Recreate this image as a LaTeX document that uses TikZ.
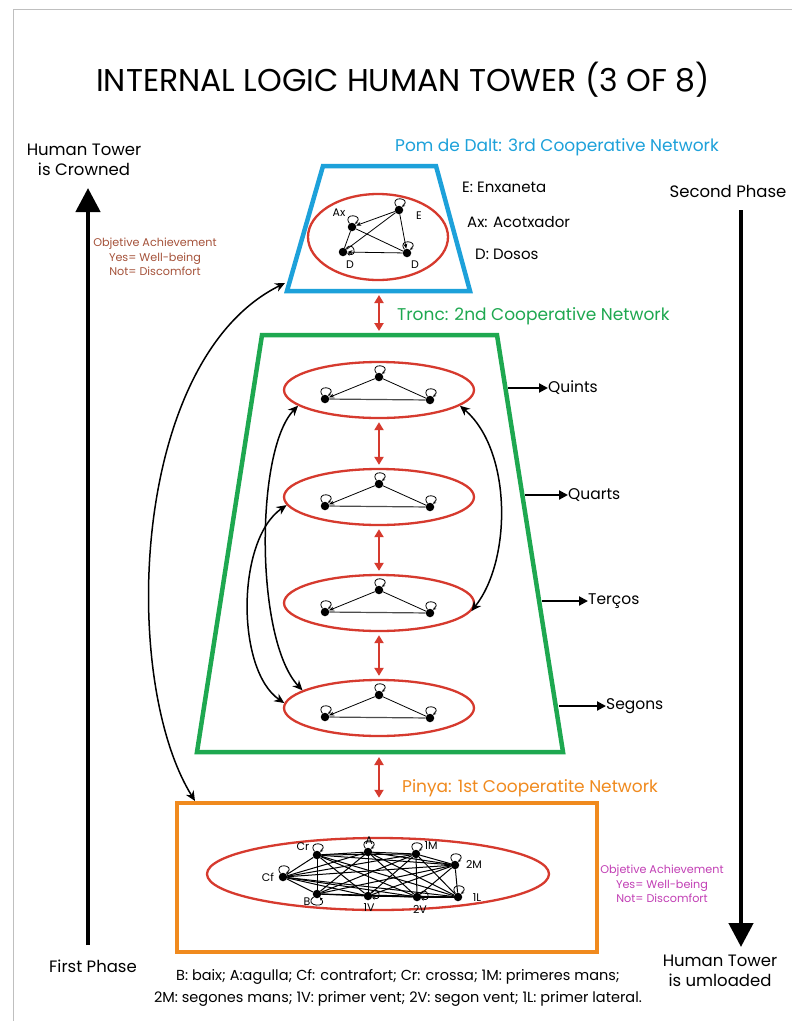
\documentclass[tikz,border=0pt]{standalone}
\usepackage{fontspec}
\setmainfont{Poppins}
\usetikzlibrary{arrows.meta,shapes.geometric,calc}
\definecolor{cblue}{HTML}{1DA1DA}
\definecolor{cgreen}{HTML}{1EA850}
\definecolor{corange}{HTML}{F08A1E}
\definecolor{cred}{HTML}{D63A2E}
\definecolor{cbrown}{HTML}{A5523A}
\definecolor{cmag}{HTML}{C23FB5}
\newcommand{\fs}[1]{\fontsize{#1}{#1}\selectfont}
\begin{document}
\begin{tikzpicture}[x=1pt,y=-1pt,
  dot/.style={circle,fill=black,inner sep=0pt,minimum size=8.5pt},
  redell/.style={ellipse,draw=cred,line width=2.3pt,inner sep=0pt},
  net/.style={line width=0.8pt},
  tip/.style={-{Stealth[length=5pt,width=4pt]}},
  selfloop/.style={loop,-{Stealth[length=3pt,width=3pt]},line width=0.8pt,min distance=6pt,looseness=6},
  lup/.style={selfloop,out=125,in=45},
  lright/.style={selfloop,out=50,in=-20},
  ldown/.style={selfloop,out=220,in=-50},
  redarr/.style={cred,line width=2.6pt,{Triangle[length=8pt,width=9pt]}-{Triangle[length=8pt,width=9pt]}},
  bigarr/.style={line width=4.5pt,-{Triangle[length=24pt,width=24pt]}},
  curvarr/.style={line width=1.5pt,{Stealth[length=10pt,width=9pt]}-{Stealth[length=10pt,width=9pt]}},
  smarr/.style={line width=2pt,-{Triangle[length=9pt,width=9pt]}},
  lbl/.style={font=\fs{11},inner sep=0pt},
  txt/.style={font=\fs{16.5},inner sep=0pt},
  obj/.style={font=\fs{11.2},align=center,inner sep=0pt}]
\useasboundingbox (0,0) rectangle (792,1021);
\fill[white] (0,0) rectangle (792,1021);
\draw[black!25,line width=0.8pt] (13,1021) -- (13,9) -- (792,9);

\node[font=\fs{31.5},inner sep=0pt] (title) at (403,80) {INTERNAL LOGIC HUMAN TOWER (3 OF 8)};

% side arrows
\coordinate (lb) at (88,945); \coordinate (lt) at (88,188);
\draw[bigarr] (lb) -- (lt);
\coordinate (rt) at (741,210); \coordinate (rb) at (741,947);
\draw[bigarr] (rt) -- (rb);
\node[txt,align=center] (crowned) at (84,160) {Human Tower\\[4pt]is Crowned};
\node[txt] (first) at (93,966) {First Phase};
\node[txt] (second) at (728,191) {Second Phase};
\node[txt,align=center] (unloaded) at (720,971) {Human Tower\\[4pt]is umloaded};

\node[obj,text=cbrown] (objl) at (155,257) {Objetive Achievement\\[2pt]Yes= Well-being\\[2pt]Not= Discomfort};
\node[obj,text=cmag] (objr) at (662,884) {Objetive Achievement\\[2pt]Yes= Well-being\\[2pt]Not= Discomfort};

% pom de dalt
\draw[cblue,line width=4.5pt,line join=miter] (323,166) -- (436,166) -- (470,291) -- (287,291) -- cycle;
\coordinate (pomb) at (379,291);
\coordinate (pomL) at (285,283);
\node[txt,anchor=west,text=cblue,font=\fs{17}] (pomt) at (395,147) {Pom de Dalt: 3rd Cooperative Network};
\node[redell,minimum width=140pt,minimum height=86pt] (et) at (378,237) {};
\node[dot] (ax) at (352,227) {};
\node[dot] (ee) at (399,210) {};
\node[dot] (d1) at (343,252) {};
\node[dot] (d2) at (407,253) {};
\draw[net,tip] (ee) -- (ax);
\draw[net] (ee) -- (d1);
\draw[net] (ax) -- (d2);
\draw[net] (ax) -- (d1);
\draw[net,tip] (ee) -- (d2);
\draw[net,tip] (d2) -- (d1);
\path (ax) edge[lup] (ax);
\path (ee) edge[lup] (ee);
\path (d2) edge[lup] (d2);
\path (d1) edge[lright] (d1);
\node[lbl] (lax) at (339,213) {Ax};
\node[lbl] (le) at (419,216) {E};
\node[lbl] (ld1) at (350,265) {D};
\node[lbl] (ld2) at (415,265) {D};
\node[txt,anchor=west,font=\fs{15}] (lgE) at (462,187) {E: Enxaneta};
\node[txt,anchor=west,font=\fs{15}] (lgA) at (467,222) {Ax: Acotxador};
\node[txt,anchor=west,font=\fs{15}] (lgD) at (475,254) {D: Dosos};

% tronc
\draw[cgreen,line width=4.5pt,line join=miter] (262,335) -- (497,335) -- (563,752) -- (197,752) -- cycle;
\coordinate (troncT) at (379,335);
\coordinate (troncB) at (379,752);
\node[txt,anchor=west,text=cgreen,font=\fs{17}] (tronct) at (397,316) {Tronc: 2nd Cooperative Network};
\draw[redarr,shorten <=4pt,shorten >=4pt] (pomb) -- (troncT);

\foreach \i/\yc/\lab/\lx in {1/390/Quints/548, 2/497/Quarts/568, 3/603/Terços/588, 4/708/Segons/606} {
  \node[redell,minimum width=190pt,minimum height=56pt] (e\i) at (379,\yc) {};
  \node[dot] (l\i) at (325,\yc+9) {};
  \node[dot] (t\i) at (379,\yc-13) {};
  \node[dot] (r\i) at (430,\yc+10) {};
  \draw[net,tip] (t\i) -- (l\i);
  \draw[net] (t\i) -- (r\i);
  \draw[net,black!70,line width=1.2pt] (l\i) -- (r\i);
  \path (l\i) edge[lup] (l\i);
  \path (t\i) edge[lup] (t\i);
  \path (r\i) edge[lup] (r\i);
  \node[txt,anchor=west,font=\fs{15.5}] (q\i) at (\lx,\yc-2) {\lab};
  \coordinate (g\i) at ({500+0.1583*(\yc-337)},\yc-2);
  \draw[smarr] (g\i) -- (q\i.west);
}
\draw[redarr,shorten <=3pt,shorten >=3pt] (e1.south) -- (e2.north);
\draw[redarr,shorten <=3pt,shorten >=3pt] (e2.south) -- (e3.north);
\draw[redarr,shorten <=3pt,shorten >=3pt] (e3.south) -- (e4.north);

\draw[curvarr] (e1.191) .. controls (255,450) and (255,640) .. (e4.167);
\draw[curvarr] (e2.185) .. controls (236,540) and (236,670) .. (e4.177);
\draw[curvarr] (e1.349) .. controls (512,450) and (512,560) .. (e3.355);

% pinya
\node[draw=corange,line width=4.5pt,minimum width=420pt,minimum height=149pt,inner sep=0pt] (pinya) at (387,877.5) {};
\node[txt,anchor=west,text=corange,font=\fs{17}] (pinyat) at (402,788) {Pinya: 1st Cooperatite Network};
\draw[redarr,shorten <=5pt,shorten >=3pt] (troncB) -- (troncB |- pinya.north);
\coordinate (pinyaC) at (195,801);
\draw[curvarr] (pinyaC) .. controls (120,680) and (130,360) .. (pomL);

\node[redell,minimum width=342pt,minimum height=72pt] (eb) at (378,874) {};
\node[dot] (Cf) at (283,877) {};
\node[dot] (Cr) at (317,855) {};
\node[dot] (A) at (368,852) {};
\node[dot] (M1) at (416,854) {};
\node[dot] (M2) at (455,865) {};
\node[dot] (L1) at (458,897) {};
\node[dot] (V2) at (417,897) {};
\node[dot] (V1) at (368,896) {};
\node[dot] (B) at (317,894) {};
\foreach \a [count=\i] in {Cf,Cr,A,M1,M2,L1,V2,V1,B} {
  \foreach \b [count=\j] in {Cf,Cr,A,M1,M2,L1,V2,V1,B} {
    \ifnum\j>\i \draw[line width=1pt] (\a) -- (\b); \fi
  }
}
\path (Cf) edge[lup] (Cf);
\path (Cr) edge[lup] (Cr);
\path (A) edge[lup] (A);
\path (M1) edge[lup] (M1);
\path (M2) edge[lup] (M2);
\path (L1) edge[lup] (L1);
\path (V2) edge[lright] (V2);
\path (V1) edge[lright] (V1);
\path (B) edge[ldown] (B);
\node[lbl] (lCf) at (268,877) {Cf};
\node[lbl] (lCr) at (303,847) {Cr};
\node[lbl] (lA) at (369,841) {A};
\node[lbl] (lM1) at (431,846) {1M};
\node[lbl] (lM2) at (474,864) {2M};
\node[lbl] (lL1) at (477,898) {1L};
\node[lbl] (lV2) at (420,909) {2V};
\node[lbl] (lV1) at (369,908) {1V};
\node[lbl] (lB) at (307,902) {B};

\node[font=\fs{14.5},align=center,inner sep=0pt] (legend) at (398,988) {B: baix; A:agulla; Cf: contrafort; Cr: crossa; 1M: primeres mans;\\[6pt]2M: segones mans; 1V: primer vent; 2V: segon vent; 1L: primer lateral.};
\end{tikzpicture}
\end{document}
